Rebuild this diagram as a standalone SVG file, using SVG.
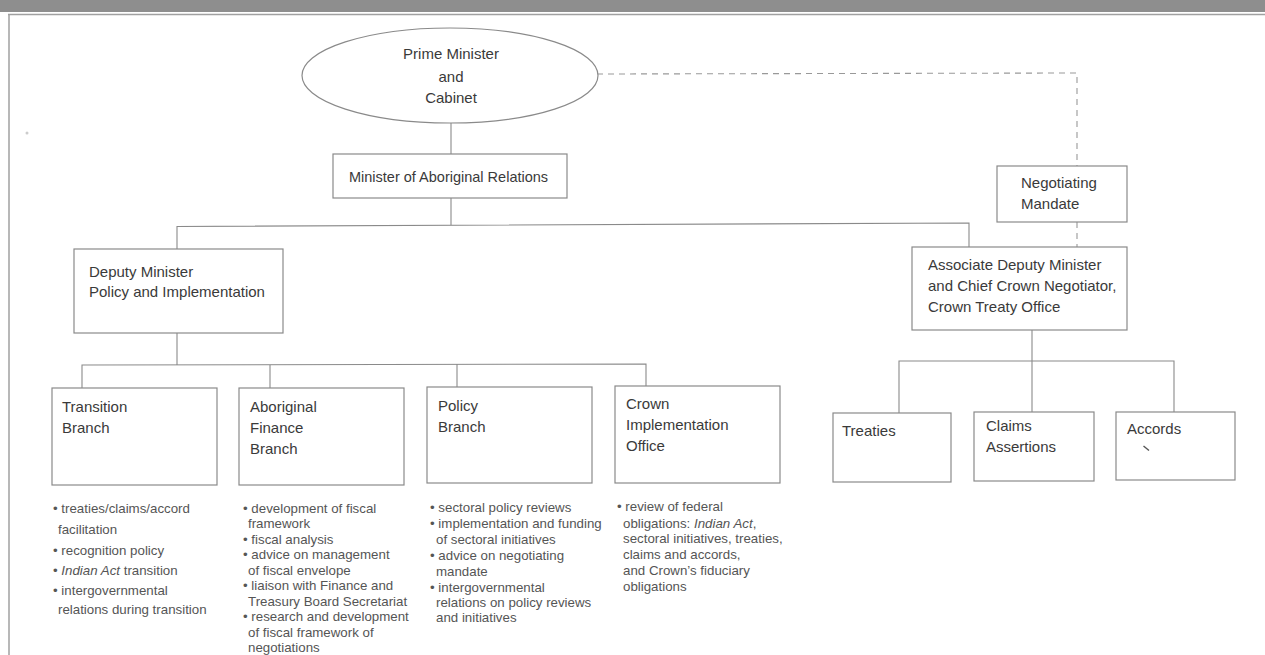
<svg xmlns="http://www.w3.org/2000/svg" width="1265" height="655" viewBox="0 0 1265 655">
<style>
.box{fill:#fff;stroke:#8a8a8a;stroke-width:1.2}
.ln{fill:none;stroke:#8a8a8a;stroke-width:1.1}
.dash{fill:none;stroke:#999;stroke-width:1.1;stroke-dasharray:6 5}
.t{font-family:"Liberation Sans",Arial,sans-serif;font-size:15px;fill:#3a3a3a}
.tm{font-family:"Liberation Sans",Arial,sans-serif;font-size:14.5px;fill:#3a3a3a}
.b{font-family:"Liberation Sans",Arial,sans-serif;font-size:13.3px;fill:#555}
.i{font-style:italic}
</style>
<rect width="1265" height="655" fill="#fff"/>
<g id="frame">
<rect x="0" y="0" width="1265" height="12" fill="#8e8e8e"/>
<line x1="8" y1="14.5" x2="1265" y2="14.5" stroke="#a0a0a0" stroke-width="1.5"/>
<line x1="9" y1="14" x2="9" y2="655" stroke="#a0a0a0" stroke-width="1.5"/>
<circle cx="27" cy="133" r="1.5" fill="#ccc"/>
</g>
<g id="connectors">
<line class="ln" x1="451" y1="123" x2="451" y2="154"/>
<line class="ln" x1="451" y1="198" x2="451" y2="225"/>
<polyline class="ln" points="177,249 177,226.5 969,223 969,247"/>
<line class="ln" x1="177" y1="333" x2="177" y2="365"/>
<polyline class="ln" points="82,388 82,365 646,364 646,386"/>
<line class="ln" x1="270" y1="365" x2="270" y2="388"/>
<line class="ln" x1="457" y1="364" x2="457" y2="387"/>
<line class="ln" x1="1032" y1="330" x2="1032" y2="412"/>
<polyline class="ln" points="899,413 899,361 1174,361 1174,412"/>
<polyline class="dash" points="597,74 1077,73 1077,166"/>
<line class="dash" x1="1077" y1="222" x2="1077" y2="247"/>
</g>
<g id="pm">
<ellipse class="box" cx="450" cy="75.5" rx="148" ry="47.5"/>
<text class="t" x="451" y="59" text-anchor="middle">Prime Minister</text>
<text class="t" x="451" y="81.5" text-anchor="middle">and</text>
<text class="t" x="451" y="103" text-anchor="middle">Cabinet</text>
</g>
<g id="minister">
<rect class="box" x="333" y="154" width="234" height="44"/>
<text class="tm" x="349" y="182">Minister of Aboriginal Relations</text>
</g>
<g id="mandate">
<rect class="box" x="997" y="166" width="130" height="56"/>
<text class="t" x="1021" y="188">Negotiating</text>
<text class="t" x="1021" y="209">Mandate</text>
</g>
<g id="deputy">
<rect class="box" x="74" y="249" width="209" height="84"/>
<text class="t" x="89" y="277">Deputy Minister</text>
<text class="t" x="89" y="297">Policy and Implementation</text>
</g>
<g id="adm">
<rect class="box" x="912" y="247" width="215" height="83"/>
<text class="t" x="928" y="270">Associate Deputy Minister</text>
<text class="t" x="928" y="291">and Chief Crown Negotiator,</text>
<text class="t" x="928" y="312">Crown Treaty Office</text>
</g>
<g id="transition">
<rect class="box" x="52" y="388" width="165" height="97"/>
<text class="t" x="62" y="412">Transition</text>
<text class="t" x="62" y="433">Branch</text>
<text class="b" x="53" y="512.5">• treaties/claims/accord</text>
<text class="b" x="58" y="533.5">facilitation</text>
<text class="b" x="53" y="554.5">• recognition policy</text>
<text class="b" x="53" y="574.5">• <tspan class="i">Indian Act</tspan> transition</text>
<text class="b" x="53" y="594.5">• intergovernmental</text>
<text class="b" x="58" y="613.5">relations during transition</text>
</g>
<g id="finance">
<rect class="box" x="239" y="388" width="165" height="97"/>
<text class="t" x="250" y="412">Aboriginal</text>
<text class="t" x="250" y="433">Finance</text>
<text class="t" x="250" y="454">Branch</text>
<text class="b" x="243" y="512.5">• development of fiscal</text>
<text class="b" x="248" y="528">framework</text>
<text class="b" x="243" y="543.5">• fiscal analysis</text>
<text class="b" x="243" y="559">• advice on management</text>
<text class="b" x="248" y="574.5">of fiscal envelope</text>
<text class="b" x="243" y="590">• liaison with Finance and</text>
<text class="b" x="248" y="605.5">Treasury Board Secretariat</text>
<text class="b" x="243" y="621">• research and development</text>
<text class="b" x="248" y="636.5">of fiscal framework of</text>
<text class="b" x="248" y="652">negotiations</text>
</g>
<g id="policy">
<rect class="box" x="427" y="387" width="165" height="96"/>
<text class="t" x="438" y="411">Policy</text>
<text class="t" x="438" y="432">Branch</text>
<text class="b" x="430" y="511.5">• sectoral policy reviews</text>
<text class="b" x="430" y="527.5">• implementation and funding</text>
<text class="b" x="436" y="543.5">of sectoral initiatives</text>
<text class="b" x="430" y="559.5">• advice on negotiating</text>
<text class="b" x="436" y="575.5">mandate</text>
<text class="b" x="430" y="591.5">• intergovernmental</text>
<text class="b" x="436" y="606.5">relations on policy reviews</text>
<text class="b" x="436" y="621.5">and initiatives</text>
</g>
<g id="crown">
<rect class="box" x="615" y="386" width="165" height="97"/>
<text class="t" x="626" y="409">Crown</text>
<text class="t" x="626" y="430">Implementation</text>
<text class="t" x="626" y="451">Office</text>
<text class="b" x="617" y="510.5">• review of federal</text>
<text class="b" x="623" y="527.5">obligations: <tspan class="i">Indian Act</tspan>,</text>
<text class="b" x="623" y="542.5">sectoral initiatives, treaties,</text>
<text class="b" x="623" y="558.5">claims and accords,</text>
<text class="b" x="623" y="574.5">and Crown’s fiduciary</text>
<text class="b" x="623" y="590.5">obligations</text>
</g>
<g id="treaties">
<rect class="box" x="833" y="413" width="118" height="69"/>
<text class="t" x="842" y="436">Treaties</text>
</g>
<g id="claims">
<rect class="box" x="974" y="412" width="120" height="69"/>
<text class="t" x="986" y="431">Claims</text>
<text class="t" x="986" y="452">Assertions</text>
</g>
<g id="accords">
<rect class="box" x="1116" y="412" width="119" height="68"/>
<text class="t" x="1127" y="434">Accords</text>
<line x1="1143.5" y1="446" x2="1149" y2="450.5" stroke="#555" stroke-width="1.4"/>
</g>
</svg>
